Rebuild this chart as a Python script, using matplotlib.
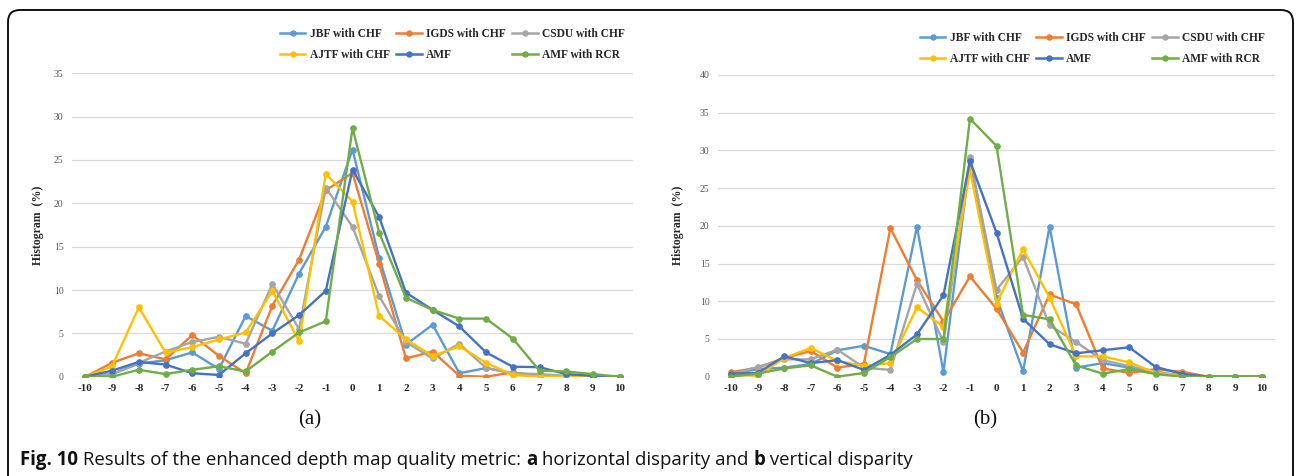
import matplotlib
matplotlib.use("Agg")
import matplotlib.pyplot as plt
from matplotlib.patches import FancyBboxPatch
from matplotlib.lines import Line2D
from matplotlib.transforms import IdentityTransform

# ---------------- data ----------------
disparity = list(range(-10, 11))
x_labels = [str(v) for v in disparity]
series_names = ["JBF with CHF", "IGDS with CHF", "CSDU with CHF",
                "AJTF with CHF", "AMF", "AMF with RCR"]
colors = ["#5B9BD5", "#ED7D31", "#A5A5A5", "#FFC000", "#4472C4", "#70AD47"]

# (a) horizontal disparity
a_jbf  = [0, 0.3, 1.5, 1.9, 2.8, 0.9, 7.0, 5.3, 11.9, 17.3, 26.2, 13.7, 3.7, 6.0, 0.4, 1.0, 0.4, 0.2, 0, 0, 0]
a_igds = [0, 1.6, 2.7, 2.0, 4.8, 2.4, 0.4, 8.2, 13.5, 21.5, 23.5, 13.0, 2.1, 2.9, 0.1, 0.0, 0.5, 0, 0, 0, 0]
a_csdu = [0, 0.3, 1.6, 2.9, 4.0, 4.6, 3.8, 10.7, 5.5, 21.8, 17.3, 9.3, 4.0, 2.1, 3.8, 1.0, 0.4, 0.3, 0.1, 0, 0]
a_ajtf = [0, 1.2, 8.0, 2.8, 3.4, 4.3, 5.1, 9.9, 4.1, 23.4, 20.2, 7.0, 4.3, 2.4, 3.5, 1.6, 0.2, 0, 0, 0, 0]
a_amf  = [0, 0.7, 1.7, 1.4, 0.4, 0.2, 2.7, 5.0, 7.1, 9.9, 23.9, 18.4, 9.7, 7.7, 5.8, 2.8, 1.15, 1.1, 0.3, 0.1, 0]
a_rcr  = [0, 0.0, 0.8, 0.3, 0.8, 1.2, 0.6, 2.9, 5.1, 6.4, 28.7, 16.6, 9.1, 7.7, 6.7, 6.7, 4.4, 0.7, 0.6, 0.3, 0]

# (b) vertical disparity
b_jbf  = [0.4, 1.0, 1.2, 1.7, 3.5, 4.1, 3.0, 19.9, 0.6, 28.8, 10.5, 0.7, 19.9, 1.2, 1.8, 1.2, 0.5, 0.1, 0, 0, 0]
b_igds = [0.6, 1.2, 2.5, 3.4, 1.2, 1.7, 19.7, 12.8, 7.3, 13.3, 9.0, 3.2, 10.9, 9.6, 1.1, 0.5, 1.0, 0.65, 0, 0, 0]
b_csdu = [0.3, 1.3, 2.3, 2.3, 3.6, 1.2, 0.9, 12.3, 4.6, 29.1, 11.5, 15.9, 6.8, 4.6, 2.2, 1.4, 0.7, 0.1, 0, 0, 0]
b_ajtf = [0.3, 0.1, 2.5, 3.8, 2.1, 1.4, 1.8, 9.2, 6.6, 27.4, 9.7, 16.9, 10.5, 2.7, 2.7, 1.9, 0.5, 0.1, 0, 0, 0]
b_amf  = [0.4, 0.5, 2.7, 1.8, 2.2, 0.9, 2.9, 5.6, 10.8, 28.6, 19.1, 7.7, 4.3, 3.1, 3.5, 3.9, 1.3, 0.35, 0, 0, 0]
b_rcr  = [0.0, 0.4, 1.1, 1.5, 0.0, 0.5, 2.6, 5.0, 5.0, 34.2, 30.6, 8.2, 7.6, 1.5, 0.4, 1.0, 0.35, 0, 0, 0, 0]

a_series = [a_jbf, a_igds, a_csdu, a_ajtf, a_amf, a_rcr]
b_series = [b_jbf, b_igds, b_csdu, b_ajtf, b_amf, b_rcr]
a_yticks = [0, 5, 10, 15, 20, 25, 30, 35]
b_yticks = [0, 5, 10, 15, 20, 25, 30, 35, 40]

# ---------------- figure ----------------
W, H = 1296, 476
fig = plt.figure(figsize=(W / 100, H / 100), dpi=100)
SERIF = ["Liberation Serif", "DejaVu Serif"]


def make_axes(rect, series, yticks):
    ax = fig.add_axes(rect)
    for vals, col in zip(series, colors):
        ax.plot(disparity, vals, color=col, lw=1.7, marker="o", ms=3.8,
                mec=col, mfc=col, solid_joinstyle="round")
    ax.set_xlim(-10.5, 10.5)
    ax.set_ylim(yticks[0], yticks[-1])
    ax.set_xticks(disparity)
    ax.set_xticklabels(x_labels, family=SERIF, fontweight="bold",
                       fontsize=8, color="#262626")
    ax.set_yticks(yticks)
    ax.set_yticklabels([str(v) for v in yticks], family=SERIF,
                       fontsize=7, color="#595959")
    ax.tick_params(axis="both", length=0)
    ax.tick_params(axis="x", pad=5)
    ax.tick_params(axis="y", pad=6)
    for s in ax.spines.values():
        s.set_visible(False)
    ax.yaxis.grid(True, color="#D9D9D9", lw=0.9)
    ax.set_axisbelow(True)
    ax.set_ylabel("Histogram  (%)", family=SERIF, fontweight="bold",
                  fontsize=8.5, color="#262626")
    return ax


axA = make_axes([72 / W, 1 - 376.7 / H, 561 / W, (376.7 - 73.3) / H],
                a_series, a_yticks)
axB = make_axes([718 / W, 1 - 376.7 / H, 557 / W, (376.7 - 75.0) / H],
                b_series, b_yticks)
for ax, lx in ((axA, 38), (axB, 678)):
    ax.yaxis.set_label_coords(lx, H - 225, transform=IdentityTransform())
    ax.yaxis.label.set_verticalalignment("center")

# legends (row-major visual order -> column-major for ncol=3)
order = [0, 3, 1, 4, 2, 5]
handles = [Line2D([], [], color=colors[i], lw=1.8, marker="o", ms=3.6)
           for i in order]
labels = [series_names[i] for i in order]
leg_kw = dict(ncol=3, loc="upper left", frameon=False,
              prop=dict(family=SERIF, weight="bold", size=8.3),
              handlelength=2.2, handletextpad=0.4, columnspacing=0.55,
              labelspacing=0.8, borderpad=0, borderaxespad=0)
legA = fig.legend(handles, labels, bbox_to_anchor=(280 / W, 1 - 28 / H), **leg_kw)
legB = fig.legend(handles, labels, bbox_to_anchor=(920 / W, 1 - 32 / H), **leg_kw)
for lg in (legA, legB):
    for t in lg.get_texts():
        t.set_color("#262626")

# sub-captions
fig.text(310 / W, 1 - 420 / H, "(a)", family=SERIF, fontsize=15,
         ha="center", va="center", color="#111111")
fig.text(985 / W, 1 - 420 / H, "(b)", family=SERIF, fontsize=15,
         ha="center", va="center", color="#111111")

# rounded frame
fig.add_artist(FancyBboxPatch((8, -12), 1285, 478,
                              boxstyle="round,pad=0,rounding_size=12",
                              transform=IdentityTransform(), fill=False,
                              ec="#111111", lw=1.4))

# caption with mixed weights, fitted to the target width
pieces = [("Fig. 10", "bold"),
          (" Results of the enhanced depth map quality metric: ", "normal"),
          ("a", "bold"), (" horizontal disparity and ", "normal"),
          ("b", "bold"), (" vertical disparity", "normal")]
CAP_FAM = ["Open Sans", "DejaVu Sans"]
renderer = fig.canvas.get_renderer()


def draw_caption(size):
    arts = []
    x = 20
    for txt, wt in pieces:
        t = fig.text(x, 11, txt, family=CAP_FAM, fontweight=wt, fontsize=size,
                     transform=IdentityTransform(), va="baseline", ha="left",
                     color="#111111")
        bb = t.get_window_extent(renderer)
        x = bb.x1
        arts.append(t)
    return arts, x


arts, x_end = draw_caption(11)
scale = (915 - 20) / (x_end - 20)
for a in arts:
    a.remove()
draw_caption(11 * scale)

fig.savefig("out.png", dpi=100)
